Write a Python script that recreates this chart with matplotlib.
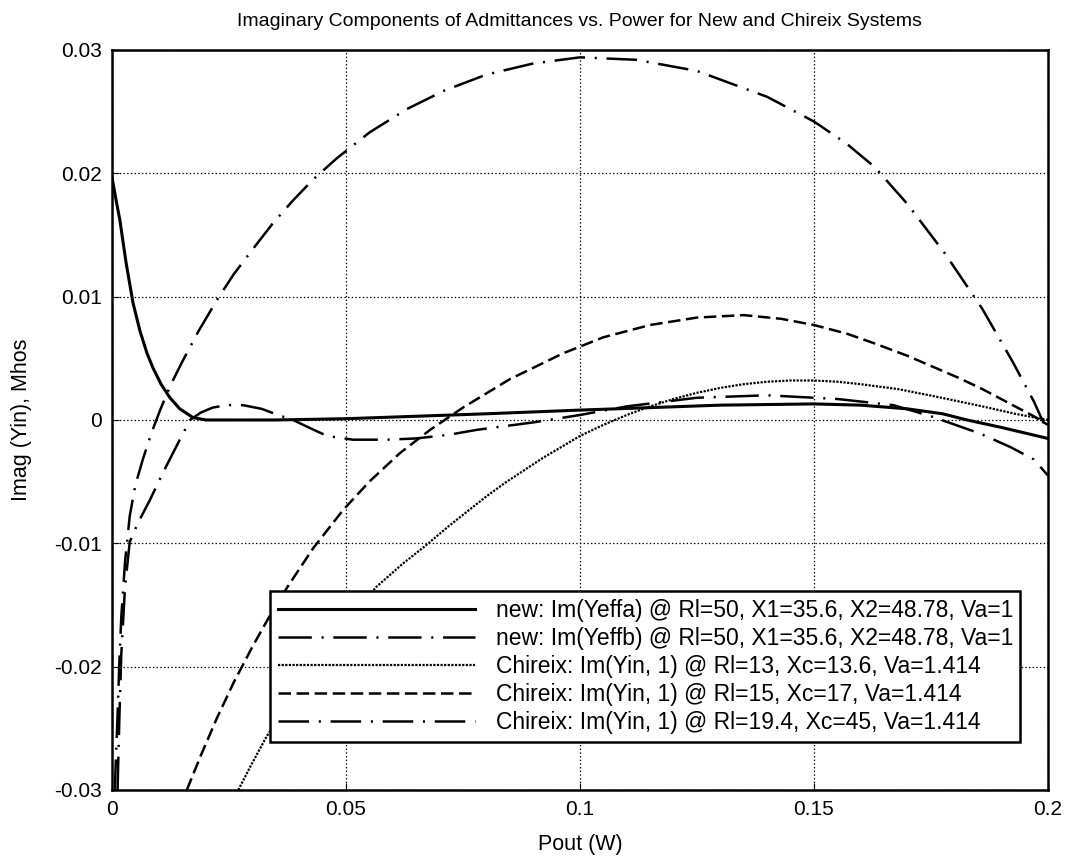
import matplotlib
matplotlib.use("Agg")
import matplotlib.pyplot as plt

plt.rcParams['font.family'] = ['Liberation Sans', 'DejaVu Sans']
plt.rcParams['lines.scale_dashes'] = False

title = "Imaginary Components of Admittances vs. Power for New and Chireix Systems"
xlabel = "Pout (W)"
ylabel = "Imag (Yin), Mhos"

labels = [
    "new: Im(Yeffa) @ Rl=50, X1=35.6, X2=48.78, Va=1",
    "new: Im(Yeffb) @ Rl=50, X1=35.6, X2=48.78, Va=1",
    "Chireix: Im(Yin, 1) @ Rl=13, Xc=13.6, Va=1.414",
    "Chireix: Im(Yin, 1) @ Rl=15, Xc=17, Va=1.414",
    "Chireix: Im(Yin, 1) @ Rl=19.4, Xc=45, Va=1.414",
]

# new: Im(Yeffa)
ya_x = [0.0, 0.0008, 0.0017, 0.003, 0.0045, 0.006, 0.0075, 0.0088, 0.0105, 0.0124,
        0.0145, 0.0173, 0.02, 0.025, 0.035, 0.05, 0.065, 0.08, 0.1, 0.115, 0.13, 0.15,
        0.16, 0.17, 0.1775, 0.1827, 0.19, 0.2]
ya_y = [0.0197, 0.0180, 0.0162, 0.0128, 0.0095, 0.0072, 0.0054, 0.0042, 0.0029, 0.0018,
        0.0009, 0.0002, 0.0, 0.0, 0.0, 0.0001, 0.0003, 0.0005, 0.0008, 0.0010, 0.0012,
        0.0013, 0.0012, 0.0009, 0.0005, 0.0, -0.0006, -0.0015]

# new: Im(Yeffb)
yb_x = [0.0012, 0.0016, 0.002, 0.0028, 0.0038, 0.0055, 0.0081, 0.011, 0.0145, 0.0167,
        0.019, 0.0215, 0.0245, 0.028, 0.032, 0.0355, 0.0387, 0.042, 0.046, 0.0515, 0.0588,
        0.065, 0.072, 0.078, 0.084, 0.09, 0.1, 0.11, 0.125, 0.14, 0.155, 0.167, 0.175,
        0.1855, 0.192, 0.197, 0.2]
yb_y = [-0.030, -0.024, -0.019, -0.0135, -0.0099, -0.0084, -0.0065, -0.0042, -0.0016,
        0.0, 0.0006, 0.0010, 0.0012, 0.0012, 0.0009, 0.0004, 0.0, -0.0006, -0.0013,
        -0.0016, -0.0016, -0.0015, -0.0012, -0.0008, -0.0005, -0.0002, 0.0004, 0.0011,
        0.0018, 0.0020, 0.0017, 0.0012, 0.0003, -0.0011, -0.0022, -0.0032, -0.0045]

# Chireix Rl=13, Xc=13.6
c1_x = [0.027, 0.030, 0.033, 0.0365, 0.04, 0.044, 0.048, 0.052, 0.0566, 0.062, 0.067,
        0.072, 0.076, 0.08, 0.084, 0.088, 0.092, 0.096, 0.1, 0.105, 0.11, 0.115, 0.12,
        0.125, 0.13, 0.135, 0.14, 0.145, 0.15, 0.155, 0.16, 0.168, 0.176, 0.186, 0.193,
        0.2]
c1_y = [-0.030, -0.0278, -0.0257, -0.0236, -0.0216, -0.0195, -0.0175, -0.0155, -0.0135,
        -0.0117, -0.0102, -0.0086, -0.0074, -0.0062, -0.0051, -0.0041, -0.0031, -0.0022,
        -0.0013, -0.0004, 0.0004, 0.0011, 0.0017, 0.0022, 0.0026, 0.0029, 0.0031,
        0.0032, 0.0032, 0.0031, 0.0029, 0.0025, 0.0019, 0.0011, 0.0005, 0.0]

# Chireix Rl=15, Xc=17
c2_x = [0.016, 0.019, 0.0224, 0.026, 0.03, 0.0337, 0.0374, 0.043, 0.0494, 0.055, 0.0615,
        0.068, 0.075, 0.085, 0.0964, 0.105, 0.115, 0.125, 0.135, 0.143, 0.15, 0.157,
        0.163, 0.17, 0.1755, 0.181, 0.186, 0.192, 0.197, 0.2]
c2_y = [-0.030, -0.0272, -0.0242, -0.0213, -0.0184, -0.0159, -0.0136, -0.0104, -0.0073,
        -0.0050, -0.0027, -0.0008, 0.0010, 0.0033, 0.0054, 0.0067, 0.0077, 0.0083,
        0.0085, 0.0082, 0.0077, 0.0070, 0.0062, 0.0052, 0.0043, 0.0034, 0.0025, 0.0013,
        0.0003, -0.0004]

# Chireix Rl=19.4, Xc=45
c3_x = [0.0006, 0.0009, 0.0012, 0.0016, 0.002, 0.0028, 0.0038, 0.005, 0.0066, 0.0085,
        0.0103, 0.0125, 0.015, 0.0185, 0.0224, 0.026, 0.03, 0.0345, 0.0387, 0.043, 0.048,
        0.055, 0.063, 0.071, 0.08, 0.09, 0.1, 0.112, 0.125, 0.14, 0.15, 0.157, 0.163,
        0.17, 0.178, 0.186, 0.1925, 0.197, 0.2]
c3_y = [-0.030, -0.027, -0.024, -0.0195, -0.016, -0.0115, -0.0078, -0.0053, -0.0032,
        -0.0010, 0.0008, 0.0028, 0.0047, 0.0072, 0.0097, 0.0118, 0.0138, 0.0160, 0.0178,
        0.0195, 0.0212, 0.0233, 0.0252, 0.0267, 0.0280, 0.0289, 0.0294, 0.0292, 0.0283,
        0.0262, 0.0242, 0.0224, 0.0205, 0.0175, 0.0135, 0.0090, 0.0047, 0.0015, -0.0010]

xticks = [0, 0.05, 0.1, 0.15, 0.2]
xticklabels = ["0", "0.05", "0.1", "0.15", "0.2"]
yticks = [-0.03, -0.02, -0.01, 0, 0.01, 0.02, 0.03]
yticklabels = ["-0.03", "-0.02", "-0.01", "0", "0.01", "0.02", "0.03"]

fig = plt.figure(figsize=(10.66, 8.61), dpi=100)
ax = fig.add_axes([0.105, 0.0825, 0.878, 0.8595])

l1, = ax.plot(ya_x, ya_y, color='black', lw=2.2, linestyle='-')
l2, = ax.plot(yb_x, yb_y, color='black', lw=1.8)
l2.set_dashes((24, 7, 1.5, 7))
l3, = ax.plot(c1_x, c1_y, color='black', lw=1.6)
l3.set_dashes((1.6, 1.0))
l4, = ax.plot(c2_x, c2_y, color='black', lw=1.8)
l4.set_dashes((9, 4))
l5, = ax.plot(c3_x, c3_y, color='black', lw=1.8)
l5.set_dashes((22, 7, 1.5, 7))

ax.set_xlim(0, 0.2)
ax.set_ylim(-0.03, 0.03)
ax.set_xticks(xticks)
ax.set_xticklabels(xticklabels)
ax.set_yticks(yticks)
ax.set_yticklabels(yticklabels)
ax.tick_params(direction='in', length=5, labelsize=15, pad=7, color='black')
ax.grid(True, color='black', linestyle=':', linewidth=0.9)
for s in ax.spines.values():
    s.set_linewidth(1.8)
    s.set_color('black')

ax.set_title(title, fontsize=14, pad=17)
ax.set_xlabel(xlabel, fontsize=15.5, labelpad=11)
ax.set_ylabel(ylabel, fontsize=15.5, labelpad=16)

leg = ax.legend([l1, l2, l3, l4, l5], labels, loc='lower left',
                bbox_to_anchor=(0.169, 0.065, 0.801, 0.203), mode='expand',
                borderaxespad=0.0,
                fontsize=16.5, handlelength=8.6, handletextpad=0.9,
                labelspacing=0.21, borderpad=0.36, fancybox=False,
                framealpha=1, edgecolor='black')
leg.get_frame().set_linewidth(1.8)

fig.savefig("out.png", dpi=100)
